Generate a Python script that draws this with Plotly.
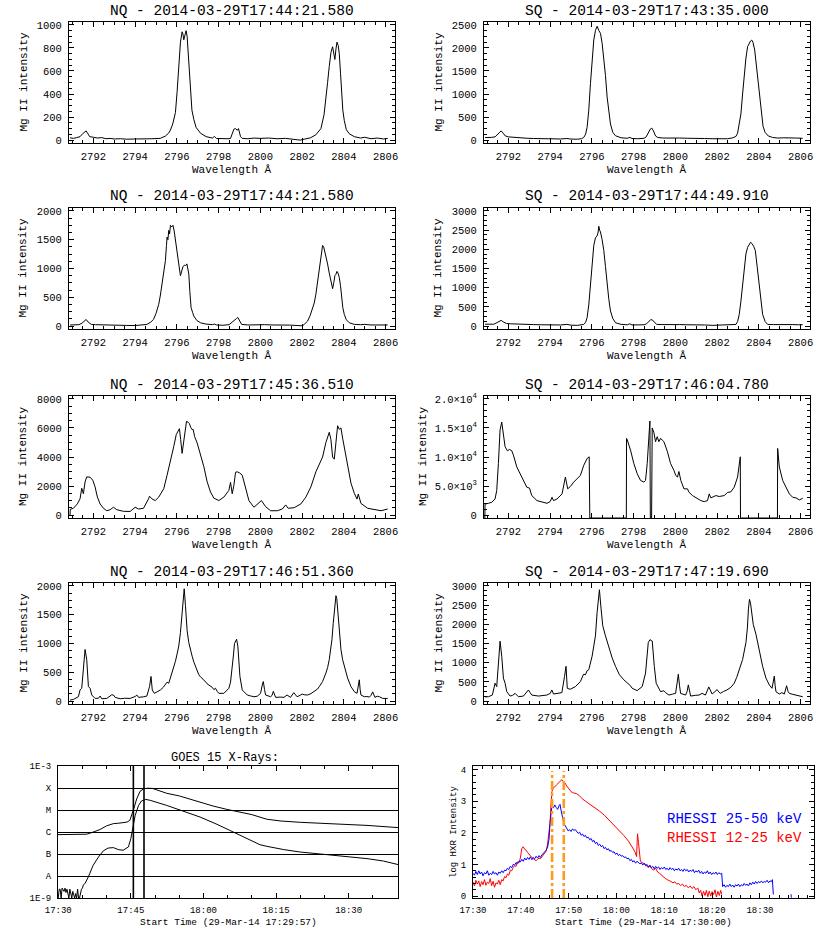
import plotly.graph_objects as go

FONT = "Liberation Mono"
W, H = 830, 935

# ---------------- IRIS Mg II spectra ----------------
nq1_wl = [2790.88, 2791.04, 2791.2, 2791.36, 2791.48, 2791.58, 2791.65, 2791.72, 2791.82, 2792.0,
          2792.2, 2792.4, 2792.6, 2792.8, 2793.0, 2793.3, 2793.6, 2794.0, 2794.4, 2794.8,
          2795.2, 2795.45, 2795.6, 2795.69, 2795.8, 2795.93, 2796.01, 2796.09, 2796.17, 2796.25,
          2796.29, 2796.33, 2796.38, 2796.44, 2796.49, 2796.54, 2796.6, 2796.65, 2796.72, 2796.81,
          2796.92, 2797.13, 2797.4, 2797.7, 2797.8, 2797.9, 2798.2, 2798.45, 2798.57, 2798.65,
          2798.73, 2798.81, 2798.89, 2798.95, 2799.05, 2799.13, 2799.4, 2799.7, 2800.0, 2800.4,
          2800.8, 2801.2, 2801.6, 2801.9, 2802.1, 2802.4, 2802.65, 2802.9, 2803.05, 2803.14,
          2803.22, 2803.3, 2803.38, 2803.46, 2803.52, 2803.57, 2803.62, 2803.67, 2803.73, 2803.78,
          2803.84, 2803.89, 2803.95, 2804.02, 2804.12, 2804.26, 2804.5, 2804.8, 2805.0, 2805.3,
          2805.6, 2805.9, 2806.1]
nq1_int = [20, 15, 22, 30, 55, 75, 80, 60, 30, 25,
           18, 22, 12, 15, 10, 12, 8, 10, 8, 12,
           15, 35, 60, 87, 140, 240, 420, 640, 850, 940,
           920, 870, 910, 950, 900, 750, 520, 380, 260, 180,
           110, 60, 30, 18, 32, 14, 10, 12, 15, 60,
           95, 100, 85, 100, 30, 15, 12, 18, 15, 18,
           12, 15, 8, 0, 8, 20, 45, 100, 220, 350,
           500, 640, 760, 810, 760, 700, 790, 850, 820, 750,
           580, 400, 260, 170, 90, 55, 30, 18, 25, 12,
           18, 10, 15]

sq1_wl = [2790.88, 2791.04, 2791.2, 2791.36, 2791.48, 2791.58, 2791.65, 2791.75, 2791.85, 2792.0,
          2792.2, 2792.4, 2792.6, 2792.9, 2793.2, 2793.6, 2794.0, 2794.5, 2794.8, 2795.0,
          2795.3, 2795.5, 2795.61, 2795.7, 2795.77, 2795.85, 2795.93, 2796.01, 2796.09, 2796.17,
          2796.25, 2796.33, 2796.41, 2796.49, 2796.57, 2796.65, 2796.73, 2796.81, 2796.89, 2797.0,
          2797.13, 2797.4, 2797.7, 2797.82, 2797.92, 2798.2, 2798.5, 2798.6, 2798.7, 2798.8,
          2798.87, 2798.95, 2799.05, 2799.15, 2799.4, 2799.8, 2800.2, 2800.6, 2801.0, 2801.4,
          2801.8, 2802.2, 2802.5, 2802.75, 2802.9, 2802.98, 2803.06, 2803.14, 2803.22, 2803.3,
          2803.38, 2803.46, 2803.54, 2803.6, 2803.66, 2803.72, 2803.8, 2803.88, 2803.96, 2804.04,
          2804.12, 2804.2, 2804.3, 2804.45, 2804.66, 2804.9, 2805.2, 2805.5, 2805.8, 2806.1]
sq1_int = [55, 50, 60, 70, 120, 180, 200, 150, 90, 70,
           60, 50, 45, 40, 35, 30, 28, 25, 35, 22,
           20, 30, 58, 130, 277, 650, 1225, 1750, 2172, 2380,
           2470, 2380, 2318, 2100, 1808, 1400, 933, 580, 350, 170,
           95, 50, 40, 60, 35, 30, 40, 70, 160, 240,
           260, 200, 90, 58, 45, 50, 45, 40, 45, 35,
           30, 25, 30, 50, 80, 150, 330, 569, 1000, 1443,
           1780, 2027, 2100, 2150, 2170, 2120, 1954, 1600, 1225, 850,
           496, 300, 168, 90, 58, 45, 50, 40, 45, 40]

nq2_wl = [2790.88, 2791.1, 2791.3, 2791.45, 2791.58, 2791.65, 2791.75, 2791.9, 2792.1, 2792.4,
          2792.8, 2793.2, 2793.6, 2794.0, 2794.3, 2794.56, 2794.75, 2794.88, 2795.0, 2795.13,
          2795.21, 2795.29, 2795.37, 2795.45, 2795.5, 2795.53, 2795.57, 2795.61, 2795.65, 2795.69,
          2795.75, 2795.81, 2795.87, 2795.93, 2796.01, 2796.09, 2796.17, 2796.23, 2796.29, 2796.36,
          2796.42, 2796.48, 2796.53, 2796.57, 2796.62, 2796.68, 2796.75, 2796.81, 2796.95, 2797.13,
          2797.4, 2797.7, 2797.8, 2797.9, 2798.2, 2798.5, 2798.65, 2798.77, 2798.85, 2798.92,
          2799.0, 2799.1, 2799.4, 2799.8, 2800.2, 2800.6, 2801.0, 2801.4, 2801.8, 2802.02,
          2802.13, 2802.26, 2802.38, 2802.5, 2802.58, 2802.66, 2802.74, 2802.82, 2802.86, 2802.9,
          2802.94, 2802.98, 2803.03, 2803.09, 2803.15, 2803.22, 2803.3, 2803.38, 2803.46, 2803.52,
          2803.57, 2803.62, 2803.67, 2803.72, 2803.78, 2803.84, 2803.89, 2803.95, 2804.02, 2804.12,
          2804.26, 2804.5, 2804.8, 2805.0, 2805.3, 2805.6, 2805.9, 2806.1]
nq2_int = [20, 18, 25, 50, 100, 115, 70, 30, 25, 20,
           18, 15, 12, 10, 15, 29, 70, 117, 220, 379,
           540, 729, 930, 1137, 1400, 1545, 1500, 1662, 1600, 1750,
           1720, 1749, 1650, 1516, 1300, 1079, 875, 960, 1030, 1060,
           1050, 1080, 1000, 904, 600, 321, 240, 175, 100, 58,
           35, 25, 35, 20, 15, 25, 70, 117, 130, 150,
           90, 30, 20, 28, 25, 20, 22, 18, 10, 5,
           40, 87, 180, 291, 400, 554, 750, 962, 1050, 1137,
           1250, 1400, 1380, 1300, 1200, 1079, 920, 787, 650, 760,
           875, 900, 950, 920, 845, 700, 496, 320, 204, 110,
           58, 30, 25, 30, 20, 22, 18, 20]

sq2_wl = [2790.88, 2791.1, 2791.3, 2791.45, 2791.58, 2791.65, 2791.75, 2791.9, 2792.1, 2792.4,
          2792.8, 2793.2, 2793.6, 2794.0, 2794.5, 2794.8, 2795.0, 2795.3, 2795.5, 2795.61,
          2795.7, 2795.77, 2795.85, 2795.93, 2796.01, 2796.09, 2796.17, 2796.25, 2796.3, 2796.33,
          2796.37, 2796.41, 2796.49, 2796.57, 2796.65, 2796.73, 2796.81, 2796.89, 2797.0, 2797.13,
          2797.4, 2797.7, 2797.82, 2797.92, 2798.2, 2798.5, 2798.62, 2798.72, 2798.82, 2798.9,
          2799.0, 2799.1, 2799.4, 2799.8, 2800.2, 2800.6, 2801.0, 2801.4, 2801.8, 2802.2,
          2802.6, 2802.9, 2802.98, 2803.06, 2803.14, 2803.22, 2803.3, 2803.38, 2803.46, 2803.54,
          2803.6, 2803.67, 2803.75, 2803.83, 2803.91, 2803.99, 2804.08, 2804.18, 2804.3, 2804.42,
          2804.7, 2805.0, 2805.3, 2805.6, 2805.9, 2806.1]
sq2_int = [50, 45, 50, 90, 140, 150, 110, 70, 60, 50,
           45, 40, 35, 30, 30, 45, 25, 20, 30, 44,
           100, 219, 550, 1094, 1650, 2100, 2300, 2350, 2450, 2600,
           2500, 2450, 2250, 1969, 1550, 1094, 700, 394, 200, 88,
           45, 35, 60, 30, 28, 35, 60, 130, 170, 160,
           90, 45, 40, 45, 40, 35, 40, 30, 20, 25,
           30, 44, 120, 306, 650, 1094, 1500, 1881, 2050, 2144,
           2180, 2150, 2080, 1969, 1600, 1181, 700, 306, 120, 44,
           40, 45, 35, 40, 35, 38]

nq3_wl = [2790.88, 2790.89, 2791.04, 2791.23, 2791.36, 2791.44, 2791.52, 2791.6, 2791.68, 2791.76,
          2791.84, 2791.97, 2792.08, 2792.19, 2792.32, 2792.48, 2792.64, 2792.8, 2792.96, 2793.12,
          2793.44, 2793.76, 2794.0, 2794.16, 2794.4, 2794.64, 2794.69, 2794.8, 2794.96, 2795.13,
          2795.37, 2795.53, 2795.69, 2795.85, 2795.97, 2796.05, 2796.12, 2796.18, 2796.25, 2796.33,
          2796.4, 2796.46, 2796.53, 2796.6, 2796.66, 2796.72, 2796.78, 2796.85, 2796.97, 2797.13,
          2797.29, 2797.45, 2797.61, 2797.77, 2798.01, 2798.25, 2798.49, 2798.57, 2798.65, 2798.73,
          2798.81, 2798.89, 2799.01, 2799.13, 2799.29, 2799.45, 2799.69, 2799.94, 2800.05, 2800.25,
          2800.49, 2800.81, 2801.05, 2801.21, 2801.33, 2801.62, 2801.94, 2802.18, 2802.42, 2802.66,
          2802.82, 2802.98, 2803.14, 2803.3, 2803.38, 2803.46, 2803.54, 2803.62, 2803.7, 2803.78,
          2803.86, 2803.94, 2804.02, 2804.18, 2804.34, 2804.5, 2804.63, 2804.69, 2804.82, 2805.14,
          2805.46, 2805.78, 2806.1]
nq3_int = [0, 400, 470, 770, 1120, 1850, 1470, 2290, 2630, 2620,
           2610, 2400, 1940, 1240, 770, 470, 300, 370, 540, 370,
           260, 250, 540, 420, 470, 1120, 1300, 1120, 1000, 1240,
           1820, 2750, 3680, 4730, 5550, 5800, 5950, 5200, 4250, 5100,
           6000, 6450, 6400, 6300, 6050, 5900, 5900, 5400, 4970, 4150,
           3340, 2290, 1590, 1170, 1000, 1240, 1700, 2250, 1470, 2050,
           2950, 2980, 2900, 2750, 1820, 1000, 540, 900, 1000, 580,
           300, 300, 420, 700, 470, 510, 770, 1240, 1940, 2980,
           3500, 4000, 5000, 5700, 5200, 4000, 3850, 5000, 6150, 5900,
           6000, 5300, 4700, 3300, 2200, 1500, 1100, 1450, 800, 470,
           370, 300, 420]

sq3_wl = [2790.87, 2790.88, 2791.04, 2791.2, 2791.36, 2791.44, 2791.52, 2791.6, 2791.68, 2791.76,
          2791.84, 2791.95, 2792.05, 2792.16, 2792.24, 2792.4, 2792.56, 2792.72, 2792.88, 2793.01,
          2793.12, 2793.37, 2793.61, 2793.85, 2794.0, 2794.09, 2794.16, 2794.33, 2794.57, 2794.73,
          2794.84, 2794.97, 2795.13, 2795.29, 2795.45, 2795.61, 2795.77, 2795.87, 2795.9, 2797.65,
          2797.66, 2797.69, 2797.85, 2798.01, 2798.17, 2798.33, 2798.49, 2798.57, 2798.65, 2798.73,
          2798.78, 2798.8, 2798.86, 2798.89, 2798.97, 2799.05, 2799.13, 2799.21,
          2799.29, 2799.37, 2799.45, 2799.62, 2799.77, 2799.93, 2800.02, 2800.1, 2800.17, 2800.26,
          2800.41, 2800.58, 2800.65, 2800.82, 2801.06, 2801.22, 2801.38, 2801.54, 2801.62, 2801.7,
          2801.94, 2802.1, 2802.34, 2802.5, 2802.66, 2802.82, 2802.98, 2803.11, 2803.12, 2804.89,
          2804.9, 2804.98, 2805.14, 2805.3, 2805.46, 2805.62, 2805.78, 2805.94, 2806.1]
sq3_int = [-500, 1900, 2030, 2200, 2780, 4230, 8870, 14670, 16000, 13800,
           11770, 11070, 11300, 11070, 10320, 8290, 7130, 5970, 4810, 4640,
           3360, 2490, 2200, 2030, 2320, 3070, 2490, 2780, 3650, 6550,
           4520, 4930, 5680, 6260, 6840, 8580, 9740, 10030, -500, -500,
           13200, 13000, 11190, 8870, 7130, 5970, 5680, 5970, 8870, 14090,
           16200, -500, -500, 15000, 14200, 12640, 13500, 12640,
           13220, 12900, 12640, 10900, 8870, 7700, 6800, 6550, 7500, 5970,
           4520, 4520, 3940, 3360, 2780, 2490, 2320, 2490, 3650, 2960,
           3360, 3200, 3360, 3900, 4000, 4810, 6550, 10030, -500, -500,
           11480, 8290, 5970, 4810, 3650, 3070, 2960, 2610, 2900]

nq4_wl = [2790.88, 2791.04, 2791.28, 2791.36, 2791.44, 2791.52, 2791.6, 2791.68, 2791.76, 2791.84,
          2791.92, 2792.08, 2792.24, 2792.32, 2792.4, 2792.64, 2792.8, 2792.88, 2792.96, 2793.04,
          2793.28, 2793.5, 2793.76, 2794.0, 2794.08, 2794.16, 2794.4, 2794.56, 2794.69, 2794.76,
          2794.82, 2794.92, 2795.05, 2795.21, 2795.35, 2795.45, 2795.53, 2795.61, 2795.69, 2795.77,
          2795.85, 2795.93, 2796.01, 2796.09, 2796.17, 2796.25, 2796.3, 2796.35, 2796.41, 2796.49,
          2796.57, 2796.65, 2796.73, 2796.81, 2796.89, 2796.97, 2797.05, 2797.13, 2797.21, 2797.29,
          2797.37, 2797.45, 2797.53, 2797.61, 2797.69, 2797.77, 2797.85, 2797.93, 2798.01, 2798.25,
          2798.49, 2798.57, 2798.65, 2798.71, 2798.76, 2798.81, 2798.86, 2798.92, 2798.97, 2799.02,
          2799.13, 2799.37, 2799.53, 2799.69, 2799.85, 2800.01, 2800.09, 2800.14, 2800.2, 2800.25,
          2800.49, 2800.56, 2800.62, 2800.68, 2800.73, 2800.95, 2801.13, 2801.28, 2801.36, 2801.44,
          2801.6, 2801.68, 2801.76, 2801.9, 2802.0, 2802.1, 2802.26, 2802.42, 2802.58, 2802.74,
          2802.82, 2802.98, 2803.14, 2803.22, 2803.3, 2803.38, 2803.43, 2803.49, 2803.54, 2803.58,
          2803.62, 2803.66, 2803.7, 2803.74, 2803.78, 2803.86, 2803.94, 2804.02, 2804.1, 2804.18,
          2804.34, 2804.5, 2804.63, 2804.7, 2804.74, 2804.78, 2804.82, 2804.98, 2805.1, 2805.22,
          2805.3, 2805.38, 2805.44, 2805.49, 2805.6, 2805.7, 2805.86, 2806.1]
nq4_int = [18, 29, 76, 194, 223, 545, 897, 721, 252, 223,
           106, 47, 50, 88, 41, 47, 100, 110, 106, 65,
           41, 50, 47, 80, 106, 65, 75, 88, 252, 428,
           194, 135, 160, 194, 240, 282, 330, 310, 400, 487,
           580, 692, 820, 956, 1191, 1601, 1850, 1950, 1660, 1220,
           1015, 880, 780, 680, 604, 520, 457, 420, 399, 360,
           340, 300, 282, 260, 240, 200, 223, 170, 135, 135,
           223, 330, 545, 800, 1000, 1040, 1073, 956, 700, 428,
           194, 106, 90, 76, 85, 135, 280, 340, 200, 106,
           76, 100, 170, 100, 65, 70, 65, 106, 80, 65,
           147, 110, 76, 100, 123, 110, 106, 130, 164, 210,
           252, 340, 487, 580, 721, 900, 1073, 1350, 1601, 1780,
           1830, 1780, 1600, 1400, 1191, 897, 720, 604, 490, 399,
           252, 164, 135, 250, 370, 200, 106, 76, 80, 70,
           100, 160, 100, 65, 85, 76, 47, 47]

sq4_wl = [2790.88, 2791.04, 2791.23, 2791.36, 2791.44, 2791.52, 2791.6, 2791.68, 2791.76, 2791.84,
          2791.92, 2792.08, 2792.2, 2792.32, 2792.48, 2792.72, 2792.88, 2792.96, 2793.04, 2793.12,
          2793.44, 2793.84, 2794.0, 2794.08, 2794.16, 2794.4, 2794.56, 2794.69, 2794.76, 2794.82,
          2794.96, 2795.21, 2795.45, 2795.6, 2795.69, 2795.77, 2795.85, 2796.01, 2796.17, 2796.25,
          2796.31, 2796.36, 2796.44, 2796.52, 2796.65, 2796.81, 2796.97, 2797.13, 2797.32, 2797.53,
          2797.69, 2797.77, 2797.85, 2797.93, 2798.17, 2798.41, 2798.57, 2798.7, 2798.78, 2798.84,
          2798.89, 2798.99, 2799.08, 2799.29, 2799.45, 2799.53, 2799.69, 2799.85, 2800.01, 2800.09,
          2800.14, 2800.2, 2800.25, 2800.49, 2800.56, 2800.62, 2800.68, 2800.73, 2800.95, 2801.13,
          2801.28, 2801.44, 2801.6, 2801.68, 2801.76, 2801.9, 2802.0, 2802.08, 2802.15, 2802.3,
          2802.47, 2802.66, 2802.82, 2802.94, 2803.06, 2803.22, 2803.38, 2803.45, 2803.5, 2803.55,
          2803.6, 2803.65, 2803.73, 2803.86, 2804.02, 2804.18, 2804.34, 2804.5, 2804.63, 2804.7,
          2804.74, 2804.78, 2804.82, 2804.98, 2805.1, 2805.22, 2805.33, 2805.4, 2805.46, 2805.6,
          2805.78, 2805.94, 2806.1]
sq4_int = [110, 114, 158, 466, 378, 906, 1560, 1170, 598, 466,
           246, 132, 150, 202, 114, 132, 246, 290, 220, 158,
           132, 158, 200, 290, 185, 200, 220, 642, 906, 334,
           308, 378, 510, 700, 686, 792, 818, 1170, 1698, 2314,
           2700, 2900, 2402, 1962, 1698, 1390, 1126, 906, 686, 554,
           480, 422, 400, 334, 273, 378, 730, 1522, 1600, 1580,
           1566, 906, 466, 246, 270, 220, 158, 180, 202, 500,
           700, 400, 202, 158, 250, 422, 250, 132, 150, 158,
           202, 158, 370, 250, 185, 250, 300, 240, 202, 250,
           290, 360, 466, 620, 818, 1082, 1522, 1900, 2400, 2650,
           2550, 2300, 2000, 1742, 1302, 906, 598, 422, 334, 500,
           650, 400, 246, 185, 220, 185, 400, 250, 202, 180,
           158, 130, 114]

spec_titles = ["NQ - 2014-03-29T17:44:21.580", "SQ - 2014-03-29T17:43:35.000",
               "NQ - 2014-03-29T17:44:21.580", "SQ - 2014-03-29T17:44:49.910",
               "NQ - 2014-03-29T17:45:36.510", "SQ - 2014-03-29T17:46:04.780",
               "NQ - 2014-03-29T17:46:51.360", "SQ - 2014-03-29T17:47:19.690"]
spec_ymax = [1000, 2500, 2000, 3000, 8000, 20000, 2000, 3000]
spec_ydtick = [200, 500, 500, 500, 2000, 5000, 500, 500]
sq3_tickvals = [0, 5000, 10000, 15000, 20000]
sq3_ticktext = ["0", "5.0×10<sup>3</sup>", "1.0×10<sup>4</sup>", "1.5×10<sup>4</sup>", "2.0×10<sup>4</sup>"]

# ---------------- GOES 15 (minutes after 17:30, log10 flux) ----------------
goes_lo_t = [0.0, 0.2, 0.4, 0.6, 0.8, 1.0, 1.2, 1.4, 1.6, 1.8,
             2.0, 2.2, 2.4, 2.6, 2.8, 3.0, 3.2, 3.4, 3.6, 3.8,
             4.0, 4.2, 4.4, 4.6, 4.8, 5.0, 5.2, 5.5, 6.2, 7.2,
             8.3, 9.3, 10.3, 11.4, 12.4, 13.4, 14.5, 15.0, 15.4, 15.9,
             16.6, 17.2, 18.1, 19.0, 22.4, 26.0, 29.3, 32.8, 36.2, 39.7,
             41.7, 43.1, 46.6, 50.0, 56.9, 63.8, 67.2, 70.2]
goes_lo_exp = [-9.0, -8.6, -8.6, -9.0, -8.55, -8.6, -8.7, -8.55, -8.75, -8.6,
               -8.8, -9.0, -8.6, -8.85, -9.0, -8.7, -8.9, -9.0, -8.8, -9.0,
               -8.6, -9.0, -9.0, -8.7, -8.6, -8.55, -8.4, -8.35, -8.05, -7.52,
               -7.14, -6.86, -6.73, -6.71, -6.80, -6.83, -6.68, -6.30, -5.77, -5.24,
               -4.79, -4.59, -4.52, -4.56, -4.79, -5.05, -5.32, -5.65, -6.00, -6.38,
               -6.58, -6.65, -6.80, -6.91, -7.06, -7.21, -7.32, -7.48]
goes_hi_t = [-0.05, 3.0, 5.9, 7.0, 8.6, 10.0, 11.4, 12.5, 13.4, 14.2,
             14.8, 15.3, 15.6, 16.2, 16.9, 17.7, 18.5, 19.5, 22.4, 25.0,
             29.3, 32.0, 34.8, 37.5, 40.0, 43.1, 46.0, 50.0, 56.9, 63.8,
             70.2]
goes_hi_exp = [-6.12, -6.12, -6.10, -6.02, -5.89, -5.72, -5.62, -5.60, -5.59, -5.55,
               -5.47, -5.20, -4.95, -4.50, -4.15, -4.03, -4.01, -4.02, -4.24, -4.36,
               -4.65, -4.82, -4.97, -5.10, -5.21, -5.42, -5.50, -5.56, -5.62, -5.70,
               -5.80]
goes_marks = [15.52, 17.72]
goes_time_ticks = [0, 15, 30, 45, 60]
goes_time_labels = ["17:30", "17:45", "18:00", "18:15", "18:30"]
goes_flux_ticks = [1e-9, 1e-8, 1e-7, 1e-6, 1e-5, 1e-4, 1e-3]
goes_flux_labels = ["1E-9", "A", "B", "C", "M", "X", "1E-3"]

# ---------------- RHESSI (minutes after 17:30, log intensity) ----------------
red_t = [0.0, 0.3, 0.6, 0.9, 1.2, 1.5, 1.8, 2.1, 2.4, 2.7,
         3.0, 3.3, 3.6, 3.9, 4.2, 4.5, 4.8, 5.1, 5.4, 5.7,
         6.0, 6.3, 6.6, 6.9, 7.2, 7.5, 7.8, 8.1, 8.4, 8.7,
         9.0, 9.3, 9.6, 9.9, 10.2, 10.5, 10.8, 11.1, 11.4, 11.7,
         12.0, 12.3, 12.6, 12.9, 13.2, 13.5, 13.8, 14.1, 14.4, 14.7,
         15.0, 15.3, 15.6, 15.9, 16.1, 16.3, 16.5, 16.8, 17.1, 17.5,
         17.9, 18.3, 18.6, 18.9, 19.2, 19.6, 20.0, 20.5, 21.0, 21.6,
         22.2, 22.8, 23.5, 24.5, 25.5, 26.5, 27.5, 28.5, 29.5, 30.5,
         31.5, 32.5, 33.2, 33.8, 34.2, 34.4, 34.6, 34.8, 35.0, 35.4,
         35.8, 36.2, 36.6, 37.0, 37.4, 37.8, 38.2, 38.6, 39.0, 39.4,
         39.8, 40.2, 40.6, 41.0, 41.4, 41.8, 42.2, 42.6, 43.0, 43.4,
         43.8, 44.2, 44.6, 45.0, 45.4, 45.8, 46.2, 46.6, 47.0, 47.3,
         47.6, 47.9, 48.2, 48.5, 48.8, 49.1, 49.4, 49.7, 50.0, 50.3,
         50.6, 50.9, 51.2, 51.5, 51.8, 52.0]
red_v = [0.45, 0.32, 0.50, 0.38, 0.48, 0.30, 0.46, 0.36, 0.52, 0.34,
         0.44, 0.40, 0.55, 0.33, 0.47, 0.28, 0.42, 0.38, 0.50, 0.36,
         0.52, 0.48, 0.62, 0.58, 0.70, 0.66, 0.82, 0.80, 0.90, 0.96,
         0.94, 1.08, 1.05, 1.20, 1.50, 1.56, 1.48, 1.45, 1.38, 1.32,
         1.28, 1.22, 1.18, 1.15, 1.12, 1.16, 1.20, 1.18, 1.25, 1.28,
         1.35, 1.42, 1.65, 1.95, 2.30, 2.90, 3.30, 3.42, 3.45, 3.52,
         3.58, 3.64, 3.68, 3.62, 3.58, 3.48, 3.38, 3.30, 3.26, 3.24,
         3.18, 3.08, 3.00, 2.90, 2.79, 2.68, 2.55, 2.40, 2.22, 2.08,
         1.92, 1.74, 1.58, 1.42, 1.25, 1.97, 1.70, 1.30, 1.10, 1.06,
         1.02, 0.98, 0.90, 0.95, 0.86, 0.82, 0.88, 0.76, 0.72, 0.66,
         0.62, 0.56, 0.52, 0.50, 0.46, 0.42, 0.45, 0.38, 0.40, 0.33,
         0.38, 0.30, 0.34, 0.26, 0.32, 0.24, 0.30, 0.20, 0.26, 0.10,
         0.18, 0.00, 0.15, 0.02, 0.18, -0.02, 0.16, 0.00, 0.14, 0.05,
         0.20, -0.03, 0.15, 0.02, 0.18, 0.05]
blue_t = [0.0, 0.3, 0.6, 0.9, 1.2, 1.5, 1.8, 2.1, 2.4, 2.7,
          3.0, 3.3, 3.6, 3.9, 4.2, 4.5, 4.8, 5.1, 5.4, 5.7,
          6.0, 6.3, 6.6, 6.9, 7.2, 7.5, 7.8, 8.1, 8.4, 8.7,
          9.0, 9.3, 9.6, 9.9, 10.2, 10.5, 10.8, 11.1, 11.4, 11.7,
          12.0, 12.3, 12.6, 12.9, 13.2, 13.5, 13.8, 14.1, 14.4, 14.7,
          15.0, 15.3, 15.6, 15.9, 16.1, 16.3, 16.5, 16.8, 17.1, 17.4,
          17.7, 18.0, 18.2, 18.4, 18.6, 18.8, 19.0, 19.3, 19.6, 19.9,
          20.2, 20.5, 20.8, 21.1, 21.4, 21.7, 22.0, 22.3, 22.6, 22.9,
          23.2, 23.5, 23.8, 24.1, 24.4, 24.7, 25.0, 25.3, 25.6, 25.9,
          26.2, 26.5, 26.8, 27.1, 27.4, 27.7, 28.0, 28.3, 28.6, 28.9,
          29.2, 29.5, 29.8, 30.1, 30.4, 30.7, 31.0, 31.3, 31.6, 31.9,
          32.2, 32.5, 32.8, 33.1, 33.4, 33.7, 34.0, 34.3, 34.6, 34.9,
          35.2, 35.5, 35.8, 36.1, 36.4, 36.7, 37.0, 37.3, 37.6, 37.9,
          38.2, 38.5, 38.8, 39.1, 39.4, 39.7, 40.0, 40.3, 40.6, 40.9,
          41.2, 41.5, 41.8, 42.1, 42.4, 42.7, 43.0, 43.3, 43.6, 43.9,
          44.2, 44.5, 44.8, 45.1, 45.4, 45.7, 46.0, 46.3, 46.6, 46.9,
          47.2, 47.5, 47.8, 48.1, 48.4, 48.7, 49.0, 49.3, 49.6, 49.9,
          50.2, 50.5, 50.8, 51.1, 51.4, 51.7, 52.0, 52.2, 52.5, 52.8,
          53.1, 53.4, 53.7, 54.0, 54.3, 54.6, 54.9, 55.2, 55.5, 55.8,
          56.1, 56.4, 56.7, 57.0, 57.3, 57.6, 57.9, 58.2, 58.5, 58.8,
          59.1, 59.4, 59.7, 60.0, 60.3, 60.6, 60.9, 61.2, 61.5, 61.8,
          62.1, 62.4, 62.6, 62.8, None, 66.5, 66.55]
blue_v = [0.72, 0.66, 0.78, 0.68, 0.80, 0.70, 0.76, 0.64, 0.74, 0.70,
          0.80, 0.66, 0.72, 0.68, 0.78, 0.70, 0.74, 0.66, 0.76, 0.72,
          0.80, 0.74, 0.82, 0.80, 0.88, 0.84, 0.94, 0.90, 1.00, 0.98,
          1.06, 1.02, 1.10, 1.08, 1.16, 1.10, 1.20, 1.14, 1.22, 1.16,
          1.24, 1.15, 1.22, 1.18, 1.26, 1.20, 1.28, 1.22, 1.30, 1.34,
          1.40, 1.45, 1.55, 1.80, 2.30, 2.70, 2.85, 2.78, 2.88, 2.80,
          2.74, 2.86, 2.90, 2.72, 2.55, 2.42, 2.30, 2.22, 2.15, 2.06,
          2.10, 2.04, 2.12, 2.08, 2.10, 2.02, 1.98, 2.02, 1.92, 1.96,
          1.88, 1.92, 1.84, 1.86, 1.78, 1.82, 1.72, 1.76, 1.66, 1.70,
          1.60, 1.64, 1.56, 1.60, 1.50, 1.54, 1.46, 1.50, 1.42, 1.44,
          1.38, 1.40, 1.32, 1.36, 1.28, 1.32, 1.26, 1.28, 1.22, 1.24,
          1.18, 1.20, 1.12, 1.16, 1.08, 1.12, 1.04, 1.10, 1.06, 1.02,
          1.05, 0.98, 1.04, 0.96, 1.00, 0.92, 0.98, 0.90, 0.94, 0.86,
          0.94, 0.88, 0.92, 0.84, 0.90, 0.86, 0.92, 0.84, 0.88, 0.82,
          0.90, 0.84, 0.88, 0.80, 0.86, 0.82, 0.88, 0.80, 0.84, 0.78,
          0.86, 0.80, 0.84, 0.76, 0.82, 0.78, 0.84, 0.74, 0.80, 0.76,
          0.82, 0.72, 0.78, 0.70, 0.76, 0.72, 0.80, 0.70, 0.76, 0.68,
          0.74, 0.70, 0.76, 0.68, 0.74, 0.70, 0.72, 0.30, 0.36, 0.28,
          0.34, 0.30, 0.38, 0.30, 0.35, 0.28, 0.36, 0.32, 0.38, 0.30,
          0.36, 0.32, 0.40, 0.34, 0.38, 0.32, 0.42, 0.36, 0.44, 0.38,
          0.46, 0.40, 0.46, 0.42, 0.48, 0.42, 0.46, 0.44, 0.50, 0.42,
          0.48, 0.46, 0.52, 0.05, None, 0.06, -0.05]
rhessi_marks = [16.54, 18.98]
rhessi_time_ticks = [0, 10, 20, 30, 40, 50, 60]
rhessi_time_labels = ["17:30", "17:40", "17:50", "18:00", "18:10", "18:20", "18:30"]

spectra = [(nq1_wl, nq1_int), (sq1_wl, sq1_int), (nq2_wl, nq2_int), (sq2_wl, sq2_int),
           (nq3_wl, nq3_int), (sq3_wl, sq3_int), (nq4_wl, nq4_int), (sq4_wl, sq4_int)]
for a, b in spectra:
    assert len(a) == len(b)
assert len(red_t) == len(red_v) and len(blue_t) == len(blue_v)
assert len(goes_lo_t) == len(goes_lo_exp) and len(goes_hi_t) == len(goes_hi_exp)

# ---------------- layout geometry (pixels) ----------------
spec_boxes = [(69, 395, 22, 143), (484, 810, 22, 143),
              (69, 395, 208, 329), (484, 810, 208, 329),
              (69, 395, 396, 518), (484, 810, 396, 518),
              (69, 395, 583, 704), (484, 810, 583, 704)]
goes_box = (58, 398, 766, 898)
rhessi_box = (473, 814, 766, 898)


def xdom(b):
    return [b[0] / W, b[1] / W]


def ydom(b):
    return [1 - b[3] / H, 1 - b[2] / H]


fig = go.Figure()
layout = dict(width=W, height=H, margin=dict(l=0, r=0, t=0, b=0, pad=0),
              paper_bgcolor="white", plot_bgcolor="white", showlegend=False,
              font=dict(family=FONT, color="black"))
annotations = []
shapes = []

tickfont = dict(family=FONT, size=10.5, color="black")

for i, (wl, val) in enumerate(spectra):
    n = i + 1
    sfx = "" if n == 1 else str(n)
    fig.add_trace(go.Scatter(x=wl, y=val, mode="lines", line=dict(color="black", width=1),
                             xaxis="x" + sfx, yaxis="y" + sfx, hoverinfo="skip"))
    ymax = spec_ymax[i]
    layout["xaxis" + sfx] = dict(
        domain=xdom(spec_boxes[i]), anchor="y" + sfx, range=[2790.83, 2806.45],
        tickmode="linear", tick0=2792, dtick=2, ticks="inside", ticklen=5, tickwidth=1,
        tickcolor="black", mirror="ticks", showline=True, linecolor="black", linewidth=1,
        showgrid=False, zeroline=False, tickfont=tickfont, ticklabelstandoff=3,
        automargin=False,
        minor=dict(tickmode="linear", tick0=2792, dtick=0.5, ticks="inside", ticklen=3,
                   tickcolor="black", showgrid=False))
    yax = dict(
        domain=ydom(spec_boxes[i]), anchor="x" + sfx, range=[-0.025 * ymax, 1.025 * ymax],
        ticks="inside", ticklen=5, tickwidth=1, tickcolor="black", mirror="ticks",
        showline=True, linecolor="black", linewidth=1, showgrid=False, zeroline=False,
        tickfont=tickfont, ticklabelstandoff=4, automargin=False,
        minor=dict(tickmode="linear", tick0=0, dtick=spec_ydtick[i] / 4 if n != 6 else 1000,
                   ticks="inside", ticklen=3, tickcolor="black", showgrid=False))
    if n == 6:
        yax.update(tickmode="array", tickvals=sq3_tickvals, ticktext=sq3_ticktext)
    else:
        yax.update(tickmode="linear", tick0=0, dtick=spec_ydtick[i])
    layout["yaxis" + sfx] = yax

    xr = "x" + sfx + " domain"
    yr = "y" + sfx + " domain"
    annotations.append(dict(text=spec_titles[i], xref=xr, yref=yr, x=0.5, y=1, yshift=11.5,
                            xanchor="center", yanchor="middle", showarrow=False,
                            font=dict(family=FONT, size=14.5, color="black")))
    annotations.append(dict(text="Wavelength Å", xref=xr, yref=yr, x=0.5, y=0, yshift=-27,
                            xanchor="center", yanchor="middle", showarrow=False,
                            font=dict(family=FONT, size=11, color="black")))
    annotations.append(dict(text="Mg II intensity", xref=xr, yref=yr, x=0, y=0.5,
                            xshift=-61 if n == 6 else -46, textangle=-90,
                            xanchor="center", yanchor="middle", showarrow=False,
                            font=dict(family=FONT, size=11, color="black")))

# ---------------- GOES panel ----------------
fig.add_trace(go.Scatter(x=goes_hi_t, y=[10 ** e for e in goes_hi_exp], mode="lines",
                         line=dict(color="black", width=1), xaxis="x9", yaxis="y9", hoverinfo="skip"))
fig.add_trace(go.Scatter(x=goes_lo_t, y=[10 ** e for e in goes_lo_exp], mode="lines",
                         line=dict(color="black", width=1), xaxis="x9", yaxis="y9", hoverinfo="skip"))
small = dict(family=FONT, size=9, color="black")
layout["xaxis9"] = dict(domain=xdom(goes_box), anchor="y9", range=[-0.05, 70.2],
                        tickmode="array", tickvals=goes_time_ticks, ticktext=goes_time_labels,
                        ticks="inside", ticklen=5, tickcolor="black", mirror="ticks",
                        showline=True, linecolor="black", linewidth=1, showgrid=False,
                        zeroline=False, tickfont=small, ticklabelstandoff=3, automargin=False,
                        minor=dict(tickmode="linear", tick0=0, dtick=5, ticks="inside",
                                   ticklen=3, tickcolor="black", showgrid=False))
layout["yaxis9"] = dict(domain=ydom(goes_box), anchor="x9", type="log", range=[-9, -3],
                        tickmode="array", tickvals=goes_flux_ticks, ticktext=goes_flux_labels,
                        ticks="", showgrid=True, gridcolor="black", gridwidth=1,
                        showline=True, linecolor="black", linewidth=1, mirror=True,
                        zeroline=False, tickfont=small, ticklabelstandoff=4, automargin=False)
for m in goes_marks:
    shapes.append(dict(type="line", xref="x9", yref="y9 domain", x0=m, x1=m, y0=0, y1=1,
                       line=dict(color="black", width=1.6)))
annotations.append(dict(text="GOES 15 X-Rays:", xref="x9 domain", yref="y9 domain", x=0.49,
                        y=1, yshift=8, xanchor="center", yanchor="middle", showarrow=False,
                        font=dict(family=FONT, size=12, color="black")))
annotations.append(dict(text="Start Time (29-Mar-14 17:29:57)", xref="x9 domain",
                        yref="y9 domain", x=0.5, y=0, yshift=-24, xanchor="center",
                        yanchor="middle", showarrow=False,
                        font=dict(family=FONT, size=9.5, color="black")))

# ---------------- RHESSI panel ----------------
fig.add_trace(go.Scatter(x=red_t, y=red_v, mode="lines", line=dict(color="#FF0000", width=1),
                         xaxis="x10", yaxis="y10", hoverinfo="skip"))
fig.add_trace(go.Scatter(x=blue_t, y=blue_v, mode="lines", line=dict(color="#0000FF", width=1),
                         xaxis="x10", yaxis="y10", hoverinfo="skip", connectgaps=False))
layout["xaxis10"] = dict(domain=xdom(rhessi_box), anchor="y10", range=[0, 71.3],
                         tickmode="array", tickvals=rhessi_time_ticks, ticktext=rhessi_time_labels,
                         ticks="inside", ticklen=5, tickcolor="black", mirror="ticks",
                         showline=True, linecolor="black", linewidth=1, showgrid=False,
                         zeroline=False, tickfont=small, ticklabelstandoff=3, automargin=False,
                         minor=dict(tickmode="linear", tick0=0, dtick=2, ticks="inside",
                                    ticklen=3, tickcolor="black", showgrid=False))
layout["yaxis10"] = dict(domain=ydom(rhessi_box), anchor="x10", range=[-0.06, 4.11],
                         tickmode="linear", tick0=0, dtick=1, ticks="inside", ticklen=5,
                         tickcolor="black", mirror="ticks", showline=True, linecolor="black",
                         linewidth=1, showgrid=False, zeroline=False, tickfont=small,
                         ticklabelstandoff=4, automargin=False,
                         minor=dict(tickmode="linear", tick0=0, dtick=0.2, ticks="inside",
                                    ticklen=3, tickcolor="black", showgrid=False))
for m in rhessi_marks:
    shapes.append(dict(type="line", xref="x10", yref="y10", x0=m, x1=m, y0=-0.06, y1=3.95,
                       line=dict(color="#FF9B1A", width=2.6, dash="dashdot")))
annotations.append(dict(text="log HXR Intensity", xref="x10 domain", yref="y10 domain",
                        x=0, y=0.5, xshift=-19, textangle=-90, xanchor="center",
                        yanchor="middle", showarrow=False, font=dict(family=FONT, size=9, color="black")))
annotations.append(dict(text="Start Time (29-Mar-14 17:30:00)", xref="x10 domain",
                        yref="y10 domain", x=0.5, y=0, yshift=-24, xanchor="center",
                        yanchor="middle", showarrow=False,
                        font=dict(family=FONT, size=9.5, color="black")))
annotations.append(dict(text="RHESSI 25-50 keV", xref="paper", yref="paper", x=665 / W,
                        y=1 - 819 / H, xanchor="left", yanchor="middle", showarrow=False,
                        font=dict(family=FONT, size=14, color="#0000FF")))
annotations.append(dict(text="RHESSI 12-25 keV", xref="paper", yref="paper", x=665 / W,
                        y=1 - 838 / H, xanchor="left", yanchor="middle", showarrow=False,
                        font=dict(family=FONT, size=14, color="#FF0000")))

layout["annotations"] = annotations
layout["shapes"] = shapes
fig.update_layout(**layout)
fig.write_html("out.html", config={"displayModeBar": False},
               post_script="document.body.style.margin='0';document.body.style.overflow='hidden';")
